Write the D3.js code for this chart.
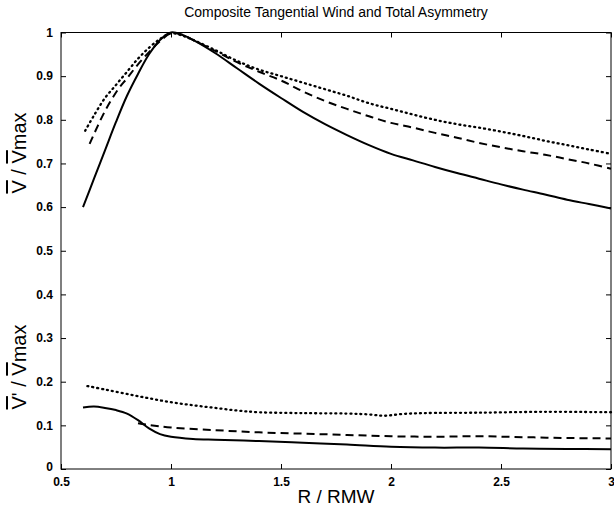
<!DOCTYPE html>
<html><head><meta charset="utf-8">
<script src="https://cdn.jsdelivr.net/npm/d3@7"></script>
<style>
body{margin:0;background:#fff;}
text{font-family:"Liberation Sans",Arial,sans-serif;fill:#000;}
</style></head>
<body><svg id="c" width="614" height="510"></svg>
<script>
const title = "Composite Tangential Wind and Total Asymmetry";
const xTicks = [0.5, 1, 1.5, 2, 2.5, 3];
const yTicks = [0, 0.1, 0.2, 0.3, 0.4, 0.5, 0.6, 0.7, 0.8, 0.9, 1];

const solidUpperR = [0.6,0.65,0.7,0.75,0.8,0.85,0.9,0.95,1.0,1.05,1.1,1.2,1.3,1.4,1.5,1.6,1.7,1.8,1.9,2.0,2.1,2.2,2.3,2.4,2.5,2.6,2.7,2.8,2.9,3.0];
const solidUpperV = [0.6,0.665,0.73,0.795,0.855,0.905,0.95,0.983,1.0,0.995,0.983,0.953,0.918,0.883,0.85,0.818,0.79,0.765,0.742,0.722,0.707,0.692,0.678,0.665,0.652,0.64,0.629,0.617,0.607,0.597];

const dashedUpperR = [0.63,0.7,0.76,0.8,0.85,0.9,0.95,1.0,1.05,1.1,1.2,1.3,1.4,1.5,1.6,1.7,1.8,1.9,2.0,2.1,2.2,2.3,2.4,2.5,2.6,2.7,2.8,2.9,3.0];
const dashedUpperV = [0.745,0.82,0.87,0.895,0.927,0.955,0.98,0.998,0.995,0.983,0.958,0.932,0.91,0.89,0.865,0.843,0.825,0.808,0.793,0.782,0.77,0.759,0.747,0.737,0.728,0.72,0.71,0.7,0.688];

const dottedUpperR = [0.61,0.65,0.7,0.75,0.8,0.85,0.9,0.95,1.0,1.05,1.1,1.2,1.3,1.4,1.5,1.6,1.7,1.8,1.9,2.0,2.1,2.2,2.3,2.4,2.5,2.6,2.7,2.8,2.9,3.0];
const dottedUpperV = [0.775,0.81,0.85,0.88,0.91,0.94,0.965,0.985,0.998,0.993,0.983,0.96,0.935,0.915,0.9,0.885,0.87,0.855,0.838,0.825,0.812,0.8,0.79,0.782,0.773,0.763,0.752,0.742,0.732,0.722];

const solidLowerR = [0.6,0.65,0.7,0.75,0.8,0.85,0.9,0.95,1.0,1.1,1.2,1.4,1.6,1.8,2.0,2.2,2.4,2.6,2.8,3.0];
const solidLowerV = [0.141,0.143,0.14,0.135,0.127,0.112,0.093,0.08,0.074,0.069,0.067,0.064,0.06,0.056,0.051,0.049,0.049,0.047,0.046,0.045];

const dashedLowerR = [0.85,0.9,1.0,1.2,1.4,1.6,1.8,2.0,2.2,2.4,2.6,2.8,3.0];
const dashedLowerV = [0.105,0.101,0.095,0.089,0.084,0.081,0.078,0.075,0.074,0.075,0.073,0.071,0.07];

const dottedLowerR = [0.62,0.7,0.8,0.9,1.0,1.1,1.2,1.3,1.4,1.6,1.8,1.9,1.97,2.05,2.15,2.4,2.7,3.0];
const dottedLowerV = [0.19,0.182,0.172,0.162,0.153,0.146,0.14,0.134,0.13,0.128,0.127,0.125,0.122,0.126,0.128,0.129,0.131,0.13];

const svg = d3.select("#c");
const L = 61, R = 611, T = 32.5, B = 469;
const x = d3.scaleLinear().domain([0.5, 3]).range([L, R]);
const y = d3.scaleLinear().domain([0, 1]).range([B, T]);

svg.append("rect").attr("x", L).attr("y", T).attr("width", R - L).attr("height", B - T)
  .attr("fill", "none").attr("stroke", "#000").attr("stroke-width", 1);

const fmt = d => d3.format("")(d);
svg.append("g").attr("transform", `translate(0,${B})`)
  .call(d3.axisBottom(x).tickValues(xTicks).tickSizeInner(-5).tickSizeOuter(0).tickPadding(8).tickFormat(fmt))
  .call(g => { g.select(".domain").remove(); g.selectAll("text").attr("font-size", 12).attr("font-weight", "bold"); });
svg.append("g").attr("transform", `translate(0,${T})`)
  .call(d3.axisTop(x).tickValues(xTicks).tickSizeInner(-5).tickSizeOuter(0).tickFormat(""))
  .call(g => g.select(".domain").remove());
svg.append("g").attr("transform", `translate(${L},0)`)
  .call(d3.axisLeft(y).tickValues(yTicks).tickSizeInner(-5).tickSizeOuter(0).tickPadding(8).tickFormat(fmt))
  .call(g => { g.select(".domain").remove(); g.selectAll("text").attr("font-size", 12).attr("font-weight", "bold"); });
svg.append("g").attr("transform", `translate(${R},0)`)
  .call(d3.axisRight(y).tickValues(yTicks).tickSizeInner(-5).tickSizeOuter(0).tickFormat(""))
  .call(g => g.select(".domain").remove());
svg.selectAll("g.tick text").filter(function(){ return this.textContent === "0"; }).attr("dy", "0.1em");

const line = d3.line().x(d => x(d[0])).y(d => y(d[1])).curve(d3.curveCatmullRom.alpha(0.5));
function draw(rs, vs, dash, w) {
  svg.append("path").datum(d3.zip(rs, vs)).attr("d", line)
    .attr("fill", "none").attr("stroke", "#000").attr("stroke-width", w)
    .attr("stroke-dasharray", dash).attr("stroke-linecap", dash === "1,4" ? "round" : "butt");
}
draw(solidUpperR, solidUpperV, null, 2);
draw(dashedUpperR, dashedUpperV, "8,5", 2);
draw(dottedUpperR, dottedUpperV, "1,4", 2.3);
draw(solidLowerR, solidLowerV, null, 2);
draw(dashedLowerR, dashedLowerV, "8,5", 2);
draw(dottedLowerR, dottedLowerV, "1,4", 2.3);

svg.append("text").attr("x", (L + R) / 2).attr("y", 17).attr("text-anchor", "middle")
  .attr("font-size", 14).text(title);

svg.append("text").attr("x", (L + R) / 2).attr("y", 503).attr("text-anchor", "middle")
  .attr("font-size", 19).text("R / RMW");

function ylab(cy, parts) {
  const t = svg.append("text").attr("transform", `translate(26,${cy}) rotate(-90)`)
    .attr("text-anchor", "middle").attr("font-size", 20);
  parts.forEach(p => {
    const s = t.append("tspan").text(p[0]);
    if (p[1]) s.style("text-decoration", "overline");
  });
}
ylab(153, [["V", true], [" / ", false], ["V", true], ["max", false]]);
ylab(367, [["V", true], ["' / ", false], ["V", true], ["max", false]]);
</script></body></html>
